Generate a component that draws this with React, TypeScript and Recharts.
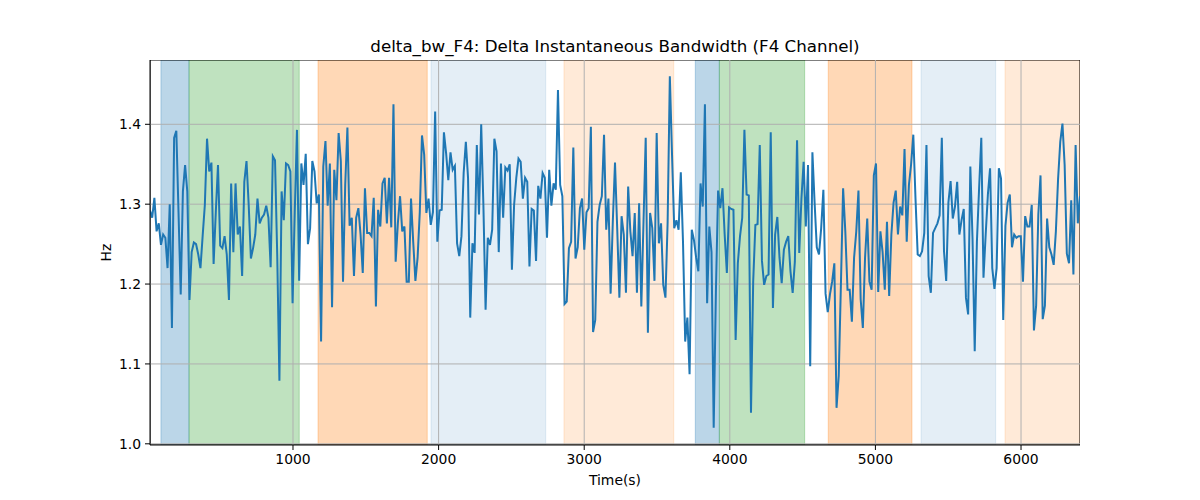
import React from 'react';
import { LineChart, Line, XAxis, YAxis, ReferenceArea, ReferenceLine } from 'recharts';

// Sampling grid of the signal (seconds)
const T_START = 18;
const T_END = 6405;

// delta_bw_F4 values (Hz), read left to right
const bwPart1 = [1.292, 1.283, 1.308, 1.266, 1.276, 1.249, 1.262, 1.258, 1.22, 1.30, 1.145, 1.383, 1.392, 1.29, 1.187, 1.316, 1.349, 1.316, 1.18, 1.24, 1.252, 1.25, 1.237, 1.22, 1.26, 1.299, 1.382, 1.341, 1.352, 1.225, 1.29, 1.349, 1.248, 1.245, 1.26, 1.237, 1.18, 1.326, 1.24, 1.326, 1.262, 1.272, 1.21, 1.328, 1.354, 1.299, 1.232, 1.245, 1.262, 1.307, 1.276, 1.283];
const bwPart2 = [1.287, 1.298, 1.283, 1.221, 1.36, 1.355, 1.237, 1.079, 1.316, 1.28, 1.351, 1.349, 1.341, 1.176, 1.29, 1.393, 1.204, 1.351, 1.324, 1.363, 1.25, 1.27, 1.354, 1.341, 1.301, 1.312, 1.128, 1.347, 1.379, 1.298, 1.351, 1.171, 1.343, 1.305, 1.389, 1.354, 1.203, 1.324, 1.396, 1.273, 1.283, 1.21, 1.283, 1.295, 1.262, 1.214, 1.32, 1.264, 1.264, 1.26, 1.308, 1.172];
const bwPart3 = [1.293, 1.272, 1.326, 1.333, 1.276, 1.333, 1.271, 1.425, 1.228, 1.276, 1.31, 1.266, 1.272, 1.203, 1.203, 1.307, 1.253, 1.204, 1.233, 1.29, 1.386, 1.362, 1.289, 1.307, 1.274, 1.29, 1.416, 1.253, 1.292, 1.293, 1.39, 1.364, 1.33, 1.365, 1.343, 1.348, 1.251, 1.235, 1.26, 1.339, 1.378, 1.333, 1.158, 1.251, 1.239, 1.374, 1.287, 1.4, 1.299, 1.168, 1.258, 1.249];
const bwPart4 = [1.268, 1.382, 1.366, 1.24, 1.351, 1.283, 1.346, 1.342, 1.35, 1.218, 1.299, 1.333, 1.357, 1.353, 1.307, 1.333, 1.328, 1.222, 1.294, 1.292, 1.229, 1.323, 1.307, 1.339, 1.333, 1.258, 1.343, 1.298, 1.326, 1.318, 1.443, 1.324, 1.31, 1.175, 1.178, 1.245, 1.253, 1.371, 1.232, 1.246, 1.295, 1.307, 1.243, 1.29, 1.295, 1.397, 1.14, 1.155, 1.278, 1.299, 1.31, 1.387, 1.268];
const bwPart5 = [1.307, 1.188, 1.278, 1.352, 1.27, 1.183, 1.285, 1.262, 1.189, 1.322, 1.266, 1.235, 1.289, 1.189, 1.301, 1.172, 1.278, 1.383, 1.139, 1.289, 1.27, 1.204, 1.389, 1.251, 1.276, 1.199, 1.183, 1.278, 1.46, 1.362, 1.27, 1.28, 1.268, 1.34, 1.253, 1.128, 1.158, 1.087, 1.268, 1.255, 1.233, 1.216, 1.326, 1.297, 1.425, 1.176, 1.272, 1.24, 1.02, 1.19, 1.317, 1.295, 1.32];
const bwPart6 = [1.262, 1.214, 1.296, 1.294, 1.293, 1.13, 1.226, 1.26, 1.283, 1.393, 1.312, 1.311, 1.039, 1.203, 1.274, 1.275, 1.374, 1.229, 1.199, 1.21, 1.212, 1.39, 1.17, 1.262, 1.284, 1.233, 1.201, 1.243, 1.253, 1.26, 1.216, 1.189, 1.228, 1.38, 1.239, 1.307, 1.353, 1.272, 1.349, 1.097, 1.365, 1.302, 1.246, 1.237, 1.27, 1.318, 1.188, 1.165, 1.187, 1.203, 1.226, 1.045];
const bwPart7 = [1.085, 1.2, 1.32, 1.266, 1.193, 1.193, 1.153, 1.233, 1.266, 1.317, 1.181, 1.145, 1.233, 1.282, 1.203, 1.193, 1.336, 1.351, 1.19, 1.266, 1.24, 1.193, 1.278, 1.185, 1.262, 1.302, 1.317, 1.262, 1.297, 1.286, 1.369, 1.253, 1.324, 1.35, 1.387, 1.307, 1.237, 1.235, 1.241, 1.264, 1.374, 1.21, 1.189, 1.264, 1.27, 1.276, 1.286, 1.383, 1.241, 1.204, 1.302, 1.329];
const bwPart8 = [1.282, 1.297, 1.328, 1.262, 1.28, 1.294, 1.183, 1.162, 1.347, 1.257, 1.116, 1.253, 1.32, 1.383, 1.208, 1.262, 1.312, 1.345, 1.22, 1.194, 1.22, 1.345, 1.332, 1.155, 1.273, 1.302, 1.312, 1.246, 1.262, 1.258, 1.26, 1.26, 1.203, 1.285, 1.272, 1.272, 1.299, 1.142, 1.173, 1.287, 1.336, 1.156, 1.173, 1.282, 1.246, 1.237, 1.224, 1.266, 1.331, 1.378, 1.401, 1.349, 1.238, 1.226, 1.305, 1.212, 1.374, 1.276, 1.31];

// Shaded segments: [start, end, colour, opacity]
const spanStarts = [93, 286, 1172, 1948, 2861, 3763, 3928, 4676, 5313, 5890];
const spanEnds = [286, 1043, 1922, 2736, 3615, 3928, 4514, 5251, 5826, 6405];
const spanColors = ['#1f77b4', '#2ca02c', '#ff7f0e', '#1f77b4', '#ff7f0e', '#1f77b4', '#2ca02c', '#ff7f0e', '#1f77b4', '#ff7f0e'];
const spanAlphas = [0.3, 0.3, 0.3, 0.12, 0.16, 0.3, 0.3, 0.3, 0.12, 0.16];

const xTicks = [1000, 2000, 3000, 4000, 5000, 6000];
const yTicks = [1.0, 1.1, 1.2, 1.3, 1.4];
const Y_MIN = 0.9985;
const Y_MAX = 1.4805;

const values = [...bwPart1, ...bwPart2, ...bwPart3, ...bwPart4, ...bwPart5, ...bwPart6, ...bwPart7, ...bwPart8];
const step = (T_END - T_START) / (values.length - 1);
const data = values.map((v, i) => ({ t: T_START + i * step, v }));

const FONT = 'DejaVu Sans, sans-serif';

export default function App() {
  return (
    <div style={{ position: 'absolute', left: 0, top: 0, width: 1200, height: 500, background: '#fff', fontFamily: FONT }}>
      <LineChart
        width={1200}
        height={500}
        data={data}
        margin={{ top: 60, right: 120, bottom: 25, left: 90 }}
      >
        <XAxis
          dataKey="t"
          type="number"
          domain={[T_START, T_END]}
          ticks={xTicks}
          allowDataOverflow
          height={30}
          tickSize={5}
          tickMargin={4}
          axisLine={{ stroke: '#000', strokeWidth: 1 }}
          tickLine={{ stroke: '#000', strokeWidth: 1 }}
          tick={{ fill: '#000', fontSize: 13.9, fontFamily: FONT }}
        />
        <YAxis
          type="number"
          domain={[Y_MIN, Y_MAX]}
          ticks={yTicks}
          allowDataOverflow
          width={60}
          tickSize={5}
          tickMargin={4}
          tickFormatter={(v: number) => v.toFixed(1)}
          axisLine={{ stroke: '#000', strokeWidth: 1 }}
          tickLine={{ stroke: '#000', strokeWidth: 1 }}
          tick={{ fill: '#000', fontSize: 13.9, fontFamily: FONT }}
        />
        {spanStarts.map((s, i) => (
          <ReferenceArea
            key={'span' + i}
            x1={s}
            x2={spanEnds[i]}
            y1={Y_MIN}
            y2={Y_MAX}
            fill={spanColors[i]}
            fillOpacity={spanAlphas[i]}
            stroke={spanColors[i]}
            strokeOpacity={spanAlphas[i]}
            strokeWidth={1}
            ifOverflow="hidden"
          />
        ))}
        {xTicks.map((x) => (
          <ReferenceLine key={'gx' + x} x={x} stroke="#b0b0b0" strokeWidth={1} ifOverflow="hidden" />
        ))}
        {yTicks.map((y) => (
          <ReferenceLine key={'gy' + y} y={y} stroke="#b0b0b0" strokeWidth={1} ifOverflow="hidden" />
        ))}
        <Line
          type="linear"
          dataKey="v"
          stroke="#1f77b4"
          strokeWidth={2}
          dot={false}
          activeDot={false}
          isAnimationActive={false}
        />
        <ReferenceArea
          x1={T_START}
          x2={T_END}
          y1={Y_MIN}
          y2={Y_MAX}
          fill="none"
          stroke="#000"
          strokeWidth={1}
          ifOverflow="hidden"
        />
      </LineChart>
      <div style={{ position: 'absolute', left: 150, width: 930, top: 36, textAlign: 'center', fontSize: 16.7, color: '#000', lineHeight: '20px' }}>
        delta_bw_F4: Delta Instantaneous Bandwidth (F4 Channel)
      </div>
      <div style={{ position: 'absolute', left: 150, width: 930, top: 472, textAlign: 'center', fontSize: 13.9, color: '#000', lineHeight: '17px' }}>
        Time(s)
      </div>
      <div style={{ position: 'absolute', left: 106, top: 253, width: 0, height: 0 }}>
        <div style={{ position: 'absolute', left: -30, top: -9, width: 60, textAlign: 'center', fontSize: 13.9, color: '#000', lineHeight: '17px', transform: 'rotate(-90deg)' }}>
          Hz
        </div>
      </div>
    </div>
  );
}
